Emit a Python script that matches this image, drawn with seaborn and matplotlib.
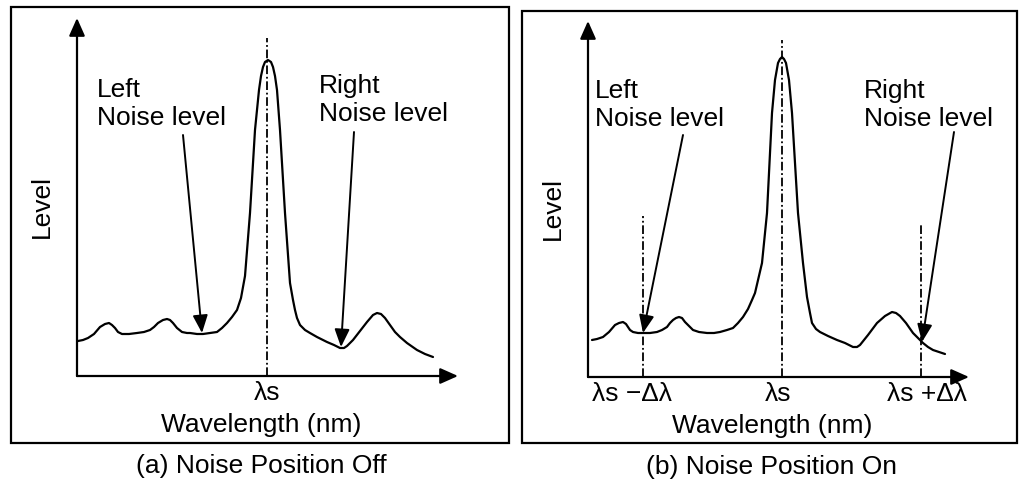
import pandas as pd
import seaborn as sns
import matplotlib.pyplot as plt
from matplotlib.patches import Rectangle

# Curve readings (x = distance from the y axis, y = height above the x axis)
curva_a_x = [1, 6, 11, 17, 23, 28, 32, 35, 38, 41, 45, 52, 60, 67, 73, 77, 81, 86,
             90, 93, 96, 100, 105, 110, 113, 120, 126, 133, 140, 145, 150, 155,
             160, 164, 168, 173, 178, 182, 184, 186, 188, 191, 194, 196, 198, 200,
             203, 208, 213, 216, 218, 220, 223, 228, 233, 240, 250, 257, 263, 267,
             270, 276, 283, 290, 296, 300, 304, 308, 313, 318, 323, 330, 340, 348, 356]
curva_a_y = [35, 36, 38, 42, 49, 52, 53, 51, 48, 44, 42, 42, 43, 44, 46, 49, 53, 56,
             57, 56, 53, 48, 44, 43, 43, 42, 42, 43, 44, 48, 53, 59,
             66, 78, 100, 163, 246, 286, 300, 309, 314, 316, 314, 309, 300, 286,
             246, 163, 93, 76, 66, 58, 51, 46, 43, 39, 34, 31, 28, 28,
             30, 36, 45, 54, 61, 63, 62, 58, 51, 44, 39, 33, 26, 22, 19]

curva_b_x = [4, 9, 15, 21, 27, 31, 35, 38, 40, 42, 45, 50, 55, 62, 69, 74, 79, 82,
             85, 88, 91, 94, 97, 101, 105, 111, 119, 126, 132, 139, 145, 150,
             155, 160, 164, 167, 174, 179, 184, 187, 190, 192, 194, 196, 198, 201,
             204, 210, 215, 219, 222, 224, 228, 232, 240, 249, 257, 265, 269, 272,
             280, 289, 297, 304, 308, 312, 318, 325, 330, 335, 340, 345, 351, 357]
curva_b_y = [37, 38, 40, 45, 52, 54, 55, 53, 50, 47, 45, 44, 44, 44, 45, 47, 50, 54,
             57, 59, 60, 59, 55, 51, 47, 45, 44, 44, 45, 47, 49, 54,
             60, 68, 77, 84, 114, 164, 264, 297, 314, 318, 320, 318, 314, 297,
             264, 164, 114, 80, 64, 54, 48, 45, 41, 37, 34, 30, 30, 32,
             42, 54, 61, 65, 64, 61, 54, 44, 39, 34, 30, 27, 25, 23]

# reference wavelength lines: (x, top)
linhas_a = [(190, 338)]
linhas_b = [(194, 337), (55, 161), (333, 154)]

# indicator arrows: (x_start, y_start, x_end, y_end)
setas_a = [(106, 241, 125, 43), (277, 244, 264, 29)]
setas_b = [(95, 242, 55, 44), (366, 245, 334, 35)]

rotulos_a = [(190, "λs")]
rotulos_b = [(44, "λs −Δλ"), (190, "λs"), (339, "λs +Δλ")]

sns.set_theme(style="white")
plt.rcParams["font.family"] = ["Liberation Sans", "DejaVu Sans"]
plt.rcParams["text.color"] = "black"
FS = 19

W, H = 1019, 483
fig = plt.figure(figsize=(W / 100, H / 100), dpi=100)

# frames around the two panels (pixel coords)
for x0, y0, x1, y1 in [(11, 7, 509, 443), (522, 11, 1017, 443)]:
    fig.patches.append(Rectangle((x0 / W, 1 - y1 / H), (x1 - x0) / W, (y1 - y0) / H,
                                 transform=fig.transFigure, fill=False,
                                 edgecolor="black", lw=1.6))

seta_eixo = dict(arrowstyle="-|>,head_length=0.9,head_width=0.4",
                 color="black", lw=1.6, shrinkA=0, shrinkB=0)
seta_ind = dict(arrowstyle="-|>,head_length=0.9,head_width=0.38",
                color="black", lw=1.4, shrinkA=0, shrinkB=0)


def painel(ox, oy, top, xs, ys, linhas, setas, rotulos, tx_left, tx_right, legenda):
    largura, altura = 381, oy - top
    ax = fig.add_axes([ox / W, 1 - oy / H, largura / W, altura / H])
    ax.set_xlim(0, largura)
    ax.set_ylim(0, altura)
    ax.axis("off")

    df = pd.DataFrame({"x": xs, "y": ys})
    sns.lineplot(data=df, x="x", y="y", ax=ax, color="black", lw=1.6,
                 estimator=None, sort=False)

    for x, y_top in linhas:
        ax.plot([x, x], [0, y_top], color="black", lw=1.3,
                linestyle=(0, (4.8, 1.5, 1, 1.5)), clip_on=False)

    # axes with arrow heads
    ax.annotate("", xy=(largura, 0), xytext=(0, 0), arrowprops=seta_eixo)
    ax.annotate("", xy=(0, altura), xytext=(0, 0), arrowprops=seta_eixo)

    for x0, y0, x1, y1 in setas:
        ax.annotate("", xy=(x1, y1), xytext=(x0, y0), arrowprops=seta_ind)

    ax.text(tx_left[0], tx_left[1], "Left\nNoise level", fontsize=FS,
            ha="left", va="top", linespacing=1.2)
    ax.text(tx_right[0], tx_right[1], "Right\nNoise level", fontsize=FS,
            ha="left", va="top", linespacing=1.2)

    for x, s in rotulos:
        ax.text(x, -24, s, fontsize=FS, ha="center", va="baseline")
    ax.text(184, -56, "Wavelength (nm)", fontsize=FS, ha="center", va="baseline")
    ax.text(-35, 169, "Level", fontsize=FS, rotation=90, ha="center", va="center")
    ax.text(184, -97, legenda, fontsize=FS, ha="center", va="baseline")
    return ax


painel(77, 376, 18, curva_a_x, curva_a_y, linhas_a, setas_a, rotulos_a,
       (20, 298), (242, 302), "(a) Noise Position Off")
painel(588, 377, 21, curva_b_x, curva_b_y, linhas_b, setas_b, rotulos_b,
       (7, 298), (276, 298), "(b) Noise Position On")

fig.savefig("out.png", dpi=100, facecolor="white")
